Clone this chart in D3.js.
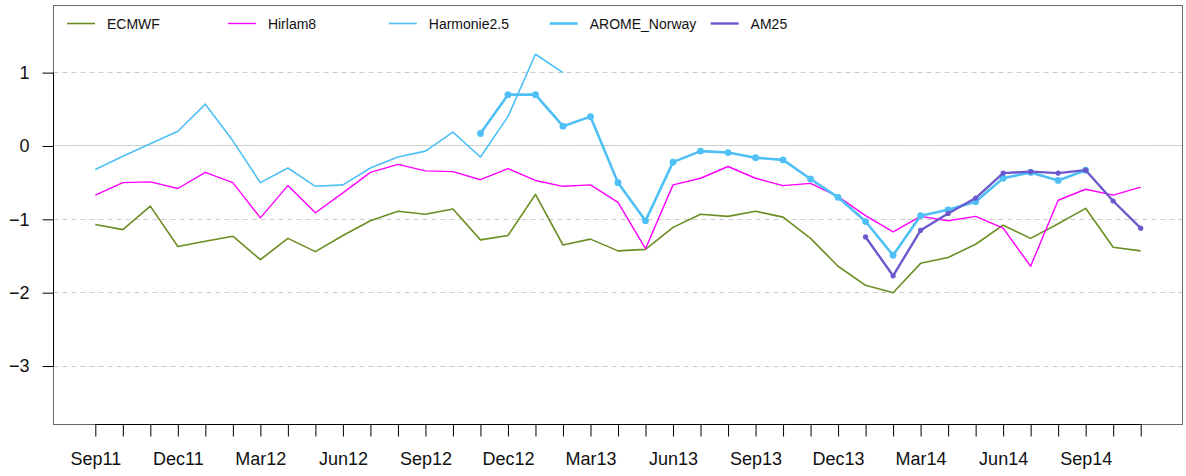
<!DOCTYPE html>
<html>
<head>
<meta charset="utf-8">
<script src="https://cdn.jsdelivr.net/npm/d3@7"></script>
<style>
  html, body { margin: 0; padding: 0; background: #fff; }
  svg { display: block; font-family: "Liberation Sans", Arial, Helvetica, sans-serif; }
</style>
</head>
<body>
<svg id="chart" width="1186" height="476"></svg>
<script>
// Monthly scores, Sep 2011 – Nov 2014
const months = [
  "Sep11","Oct11","Nov11","Dec11","Jan12","Feb12","Mar12","Apr12","May12","Jun12","Jul12","Aug12",
  "Sep12","Oct12","Nov12","Dec12","Jan13","Feb13","Mar13","Apr13","May13","Jun13","Jul13","Aug13",
  "Sep13","Oct13","Nov13","Dec13","Jan14","Feb14","Mar14","Apr14","May14","Jun14","Jul14","Aug14",
  "Sep14","Oct14","Nov14"
];
const tickLabels = ["Sep11","Dec11","Mar12","Jun12","Sep12","Dec12","Mar13","Jun13","Sep13","Dec13","Mar14","Jun14","Sep14"];
const yTicks = [-3, -2, -1, 0, 1];

const ecmwf = [
  -1.07, -1.14, -0.82, -1.37, -1.30, -1.23, -1.55, -1.26, -1.44, -1.22, -1.02, -0.89,
  -0.93, -0.86, -1.28, -1.22, -0.66, -1.35, -1.27, -1.43, -1.41, -1.11, -0.93, -0.96,
  -0.89, -0.97, -1.26, -1.64, -1.90, -2.00, -1.60, -1.52, -1.34, -1.08, -1.26, -1.06,
  -0.85, -1.38, -1.43
];
const hirlam8 = [
  -0.67, -0.50, -0.49, -0.58, -0.36, -0.50, -0.98, -0.54, -0.91, -0.64, -0.36, -0.25,
  -0.34, -0.35, -0.46, -0.31, -0.47, -0.55, -0.53, -0.77, -1.40, -0.53, -0.44, -0.28,
  -0.44, -0.54, -0.51, -0.69, -0.95, -1.17, -0.96, -1.02, -0.96, -1.12, -1.64, -0.74,
  -0.59, -0.67, -0.56
];
const harmonie25 = [
  -0.32, -0.14, 0.03, 0.20, 0.57, 0.07, -0.50, -0.30, -0.55, -0.53, -0.30, -0.15,
  -0.07, 0.19, -0.15, 0.40, 1.25, 1.00, null, null, null, null, null, null,
  null, null, null, null, null, null, null, null, null, null, null, null,
  null, null, null
];
const aromeNorway = [
  null, null, null, null, null, null, null, null, null, null, null, null,
  null, null, 0.17, 0.70, 0.70, 0.27, 0.40, -0.50, -1.02, -0.22, -0.07, -0.09,
  -0.16, -0.19, -0.45, -0.70, -1.03, -1.49, -0.95, -0.87, -0.76, -0.44, -0.36, -0.47,
  -0.33, null, null
];
const am25 = [
  null, null, null, null, null, null, null, null, null, null, null, null,
  null, null, null, null, null, null, null, null, null, null, null, null,
  null, null, null, null, -1.24, -1.77, -1.15, -0.92, -0.71, -0.37, -0.35, -0.37,
  -0.33, -0.75, -1.12
];

const series = [
  { name: "ECMWF",        values: ecmwf,       color: "#6B8E23", width: 1.6, r: 0 },
  { name: "Hirlam8",      values: hirlam8,     color: "#FF00FF", width: 1.4, r: 0 },
  { name: "Harmonie2.5",  values: harmonie25,  color: "#4FC0F5", width: 1.6, r: 0 },
  { name: "AROME_Norway", values: aromeNorway, color: "#4FC0F5", width: 2.6, r: 3.4 },
  { name: "AM25",         values: am25,        color: "#6A5ACD", width: 2.4, r: 2.6 }
];

const svg = d3.select("#chart");
const plot = { left: 53.5, right: 1182.5, top: 5.5, bottom: 424.5 };

const n = months.length - 1;
const pad = 0.04 * n;
const x = d3.scaleLinear().domain([-pad, n + pad]).range([plot.left, plot.right]);
const y = d3.scaleLinear().domain([-3.797, 1.915]).range([plot.bottom, plot.top]);
const snap = v => Math.round(v - 0.5) + 0.5;

// horizontal reference lines
const grid = svg.append("g");
grid.append("line")
  .attr("x1", plot.left).attr("x2", plot.right)
  .attr("y1", snap(y(0))).attr("y2", snap(y(0)))
  .attr("stroke", "#d4d4d4").attr("stroke-width", 1);
grid.selectAll("line.dash").data(yTicks).enter().append("line")
  .attr("class", "dash")
  .attr("x1", plot.left).attr("x2", plot.right)
  .attr("y1", d => snap(y(d))).attr("y2", d => snap(y(d)))
  .attr("stroke", "#cccccc").attr("stroke-width", 1)
  .attr("stroke-dasharray", "5,4");

// series lines and points
const line = d3.line()
  .defined(d => d.v != null)
  .x(d => x(d.i))
  .y(d => y(d.v));

series.forEach(s => {
  const pts = s.values.map((v, i) => ({ i, v }));
  svg.append("path")
    .datum(pts)
    .attr("fill", "none")
    .attr("stroke", s.color)
    .attr("stroke-width", s.width)
    .attr("stroke-linejoin", "round")
    .attr("d", line);
  if (s.r > 0) {
    svg.append("g").selectAll("circle")
      .data(pts.filter(d => d.v != null))
      .enter().append("circle")
      .attr("cx", d => x(d.i))
      .attr("cy", d => y(d.v))
      .attr("r", s.r)
      .attr("fill", s.color);
  }
});

// plot frame
svg.append("rect")
  .attr("x", plot.left).attr("y", plot.top)
  .attr("width", plot.right - plot.left).attr("height", plot.bottom - plot.top)
  .attr("fill", "none").attr("stroke", "#666").attr("stroke-width", 1);

// x axis: a tick every month, labels every third month
const xAxis = d3.axisBottom(x)
  .tickValues(d3.range(months.length))
  .tickSize(12)
  .tickPadding(16)
  .tickFormat(i => tickLabels.includes(months[i]) ? months[i] : "");
const gx = svg.append("g").attr("transform", `translate(0,${plot.bottom})`).call(xAxis);
gx.select(".domain").remove();
gx.append("line")
  .attr("x1", x(0)).attr("x2", x(n)).attr("y1", 0).attr("y2", 0)
  .attr("stroke", "#000");
gx.selectAll(".tick line").attr("stroke", "#000");
gx.selectAll(".tick text")
  .attr("font-size", 18).attr("fill", "#111")
  .attr("font-family", "Liberation Sans, Arial, sans-serif");

// y axis
const yAxis = d3.axisLeft(y)
  .tickValues(yTicks)
  .tickSize(11)
  .tickPadding(13)
  .tickFormat(d3.format("d"));
const gy = svg.append("g").attr("transform", `translate(${plot.left},0)`).call(yAxis);
gy.select(".domain").remove();
gy.append("line")
  .attr("x1", 0).attr("x2", 0).attr("y1", y(-3)).attr("y2", y(1))
  .attr("stroke", "#000");
gy.selectAll(".tick line").attr("stroke", "#000");
gy.selectAll(".tick text")
  .attr("font-size", 18).attr("fill", "#111")
  .attr("font-family", "Liberation Sans, Arial, sans-serif");

// legend across the top of the plot
const legend = svg.append("g").attr("transform", "translate(67,24)");
const item = legend.selectAll("g").data(series).enter().append("g")
  .attr("transform", (d, k) => `translate(${k * 160.9},0)`);
item.append("line")
  .attr("x1", 0).attr("x2", 28).attr("y1", -0.5).attr("y2", -0.5)
  .attr("stroke", d => d.color)
  .attr("stroke-width", d => d.width);
item.append("text")
  .attr("x", 40).attr("y", 0)
  .attr("dy", "0.35em")
  .attr("font-size", 14).attr("fill", "#111")
  .text(d => d.name);
</script>
</body>
</html>
